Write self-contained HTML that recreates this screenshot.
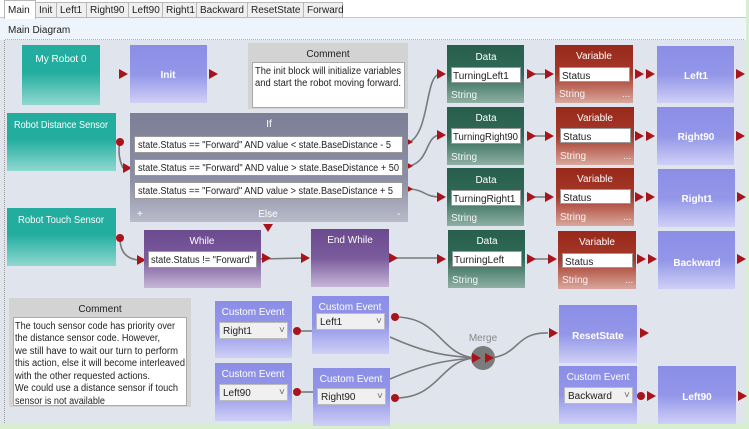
<!DOCTYPE html>
<html><head><meta charset="utf-8"><style>
body{margin:0;width:749px;height:429px;overflow:hidden;background:#dfe4ed;font-family:"Liberation Sans",sans-serif}
svg{display:block}
text{font-family:"Liberation Sans",sans-serif;font-size:10px}
</style></head><body>
<svg width="749" height="429" viewBox="0 0 749 429" xmlns="http://www.w3.org/2000/svg">
<defs>
<linearGradient id="teal" x1="0" y1="0" x2="0" y2="1"><stop offset="0" stop-color="#22ad9f"/><stop offset="0.45" stop-color="#22ad9f"/><stop offset="1" stop-color="#8fd8cf"/></linearGradient>
<linearGradient id="blue" x1="0" y1="0" x2="0" y2="1"><stop offset="0" stop-color="#8b8ee6"/><stop offset="0.5" stop-color="#9396e8"/><stop offset="1" stop-color="#cfd0f6"/></linearGradient>
<linearGradient id="green" x1="0" y1="0" x2="0" y2="1"><stop offset="0" stop-color="#285e4c"/><stop offset="0.5" stop-color="#2f6a57"/><stop offset="1" stop-color="#8fb0a4"/></linearGradient>
<linearGradient id="red" x1="0" y1="0" x2="0" y2="1"><stop offset="0" stop-color="#98281a"/><stop offset="0.5" stop-color="#a53a2a"/><stop offset="1" stop-color="#d9a79c"/></linearGradient>
<linearGradient id="purp" x1="0" y1="0" x2="0" y2="1"><stop offset="0" stop-color="#6b4a8e"/><stop offset="0.5" stop-color="#7a5b9c"/><stop offset="1" stop-color="#c7b6d8"/></linearGradient>
<linearGradient id="gray" x1="0" y1="0" x2="0" y2="1"><stop offset="0" stop-color="#7c7f96"/><stop offset="0.6" stop-color="#8b8ea4"/><stop offset="1" stop-color="#b9bbca"/></linearGradient>
</defs>
<rect x="0" y="0" width="749" height="429" fill="#dfe4ed"/>
<rect x="0" y="0" width="749" height="18" fill="#ffffff"/>
<rect x="0" y="18" width="749" height="22" fill="#eef4fb"/>
<line x1="0" y1="17.5" x2="749" y2="17.5" stroke="#c8c8c8"/>
<g stroke="#b8b8b8" fill="#efefef">
<rect x="35.5" y="2.5" width="21" height="15"/><rect x="56.5" y="2.5" width="30" height="15"/><rect x="86.5" y="2.5" width="42" height="15"/><rect x="128.5" y="2.5" width="34" height="15"/><rect x="162.5" y="2.5" width="34" height="15"/><rect x="196.5" y="2.5" width="51" height="15"/><rect x="247.5" y="2.5" width="56" height="15"/><rect x="303.5" y="2.5" width="39" height="15"/>
</g>
<rect x="4.5" y="0.5" width="31" height="18" fill="#fff" stroke="#b8b8b8"/>
<rect x="5" y="17" width="30" height="2" fill="#fff"/>
<g fill="#222" font-size="9">
<text x="8" y="13">Main</text><text x="39" y="13">Init</text><text x="60" y="13">Left1</text><text x="90" y="13">Right90</text><text x="132" y="13">Left90</text><text x="166" y="13">Right1</text><text x="200" y="13">Backward</text><text x="251" y="13">ResetState</text><text x="307" y="13">Forward</text>
</g>
<text x="8" y="33" fill="#222" font-size="9.5">Main Diagram</text>
<line x1="5" y1="39.5" x2="744" y2="39.5" stroke="#b0b0b0" stroke-dasharray="1,1"/>
<line x1="4.5" y1="40" x2="4.5" y2="424" stroke="#999" stroke-dasharray="1,1"/>
<rect x="746" y="0" width="3" height="429" fill="#d5efd0"/>
<rect x="0" y="424" width="749" height="5" fill="#d5efd0"/>

<g stroke="#7a7a7a" stroke-width="1.6" fill="none">
<path d="M120 142 Q117 155 123 168"/>
<path d="M120 238 Q120 258 138 260"/>
<path d="M410 142 C430 130 425 75 440 74"/>
<path d="M410 166 C430 160 425 136 440 135"/>
<path d="M410 189 C425 190 425 197 440 197"/>
<path d="M260 259 L305 258"/>
<path d="M392 258 L440 258"/>
<path d="M528 74 L548 74"/><path d="M528 136 L548 136"/><path d="M528 197 L548 197"/><path d="M528 259 L550 259"/>
<path d="M297 331 L312 331"/><path d="M297 392 L313 392"/>
<path d="M395 317 C440 317 440 355 475 358"/>
<path d="M390 337 C430 355 450 356 475 358"/>
<path d="M390 379 C430 362 450 360 475 358"/>
<path d="M395 398 C440 398 440 360 475 358"/>
<path d="M490 358 C520 355 515 332 548 333"/>
</g>
<g fill="#a8141a">
<path d="M119 69 L128 74 L119 79Z"/><path d="M209 69 L218 74 L209 79Z"/>
<path d="M123 163 L132 168 L123 173Z"/><path d="M137 255 L146 260 L137 265Z"/>
<path d="M404 137 L413 142 L404 147Z"/><path d="M404 161 L413 166 L404 171Z"/><path d="M404 184 L413 189 L404 194Z"/>
<path d="M263 224 L273 224 L268 232Z"/>
<path d="M262 253 L271 258 L262 263Z"/><path d="M301 253 L310 258 L301 263Z"/><path d="M389 253 L398 258 L389 263Z"/>
<path d="M437 69 L446 74 L437 79Z"/><path d="M437 130 L446 135 L437 140Z"/><path d="M437 192 L446 197 L437 202Z"/><path d="M437 254 L446 259 L437 264Z"/>
<path d="M527 69 L536 74 L527 79Z"/><path d="M545 69 L554 74 L545 79Z"/>
<path d="M527 131 L536 136 L527 141Z"/><path d="M545 131 L554 136 L545 141Z"/>
<path d="M527 192 L536 197 L527 202Z"/><path d="M545 192 L554 197 L545 202Z"/>
<path d="M527 254 L536 259 L527 264Z"/><path d="M548 254 L557 259 L548 264Z"/>
<path d="M635 69 L644 74 L635 79Z"/><path d="M646 69 L655 74 L646 79Z"/>
<path d="M635 131 L644 136 L635 141Z"/><path d="M646 131 L655 136 L646 141Z"/>
<path d="M635 192 L644 197 L635 202Z"/><path d="M646 192 L655 197 L646 202Z"/>
<path d="M637 254 L646 259 L637 264Z"/><path d="M648 254 L657 259 L648 264Z"/>
<path d="M736 69 L745 74 L736 79Z"/><path d="M736 131 L745 136 L736 141Z"/><path d="M737 192 L746 197 L737 202Z"/><path d="M737 254 L746 259 L737 264Z"/>
<path d="M549 328 L558 333 L549 338Z"/><path d="M640 328 L649 333 L640 338Z"/>
<path d="M647 391 L656 396 L647 401Z"/><path d="M738 391 L747 396 L738 401Z"/>
</g>
<g fill="#a8141a"><circle cx="120" cy="142" r="4"/><circle cx="120" cy="238" r="4"/><circle cx="297" cy="331" r="4"/><circle cx="297" cy="392" r="4"/><circle cx="395" cy="317" r="4"/><circle cx="395" cy="398" r="4"/><circle cx="641" cy="396" r="4"/></g>
<circle cx="483" cy="358" r="12" fill="#7b7b7b"/>
<path d="M472 353 L481 358 L472 363Z" fill="#a8141a"/><path d="M485 353 L494 358 L485 363Z" fill="#a8141a"/>
<text x="483" y="341" text-anchor="middle" fill="#888" font-size="9.5">Merge</text>

<rect x="22" y="45" width="78" height="60" fill="url(#teal)"/>
<text x="61" y="62" text-anchor="middle" fill="#fff">My Robot 0</text>
<rect x="7" y="113" width="109" height="58" fill="url(#teal)"/>
<text x="61" y="128" text-anchor="middle" fill="#fff" textLength="94" lengthAdjust="spacingAndGlyphs">Robot Distance Sensor</text>
<rect x="7" y="208" width="109" height="58" fill="url(#teal)"/>
<text x="61" y="223" text-anchor="middle" fill="#fff" textLength="86" lengthAdjust="spacingAndGlyphs">Robot Touch Sensor</text>

<rect x="130" y="45" width="77" height="58" fill="url(#blue)"/>
<text x="168" y="78" text-anchor="middle" fill="#fff" font-weight="bold">Init</text>
<rect x="248" y="43" width="160" height="66" fill="#d3d3d3"/>
<text x="328" y="57" text-anchor="middle" fill="#222">Comment</text>
<rect x="252.5" y="62.5" width="152" height="45" fill="#fff" stroke="#aaa"/>
<text x="255" y="74" fill="#222" font-size="9.6" textLength="146" lengthAdjust="spacingAndGlyphs">The init block will initialize variables</text>
<text x="255" y="86" fill="#222" font-size="9.6" textLength="146" lengthAdjust="spacingAndGlyphs">and start the robot moving forward.</text>

<rect x="130" y="113" width="278" height="109" fill="url(#gray)"/>
<text x="269" y="127" text-anchor="middle" fill="#fff">If</text>
<g fill="#fff" stroke="#999"><rect x="134.5" y="136.5" width="268" height="16"/><rect x="134.5" y="159.5" width="268" height="16"/><rect x="134.5" y="182.5" width="268" height="16"/></g>
<g fill="#222" font-size="9.4"><text x="138" y="148" textLength="253" lengthAdjust="spacingAndGlyphs">state.Status == "Forward" AND value &lt; state.BaseDistance - 5</text><text x="138" y="171" textLength="261" lengthAdjust="spacingAndGlyphs">state.Status == "Forward" AND value &gt; state.BaseDistance + 50</text><text x="138" y="194" textLength="255" lengthAdjust="spacingAndGlyphs">state.Status == "Forward" AND value &gt; state.BaseDistance + 5</text></g>
<text x="137" y="217" fill="#fff">+</text><text x="268" y="217" text-anchor="middle" fill="#fff">Else</text><text x="397" y="217" fill="#fff">-</text>

<rect x="144" y="230" width="117" height="58" fill="url(#purp)"/>
<text x="202" y="244" text-anchor="middle" fill="#fff">While</text>
<rect x="148.5" y="251.5" width="108" height="16" fill="#fff" stroke="#999"/>
<text x="151" y="263" fill="#222" font-size="9.4" textLength="102" lengthAdjust="spacingAndGlyphs">state.Status != "Forward"</text>
<rect x="311" y="229" width="78" height="58" fill="url(#purp)"/>
<text x="350" y="243" text-anchor="middle" fill="#fff">End While</text>

<g>
<rect x="447" y="45" width="77" height="58" fill="url(#green)"/><rect x="447" y="107" width="77" height="58" fill="url(#green)"/><rect x="447" y="168" width="77" height="58" fill="url(#green)"/><rect x="448" y="230" width="77" height="58" fill="url(#green)"/>
<rect x="555" y="45" width="78" height="58" fill="url(#red)"/><rect x="556" y="107" width="78" height="58" fill="url(#red)"/><rect x="556" y="168" width="78" height="58" fill="url(#red)"/><rect x="558" y="231" width="78" height="58" fill="url(#red)"/>
<rect x="657" y="46" width="77" height="57" fill="url(#blue)"/><rect x="657" y="107" width="77" height="58" fill="url(#blue)"/><rect x="658" y="169" width="77" height="58" fill="url(#blue)"/><rect x="658" y="231" width="77" height="58" fill="url(#blue)"/>
</g>
<g fill="#fff" stroke="#999">
<rect x="451.5" y="67.5" width="69" height="15"/><rect x="451.5" y="128.5" width="69" height="15"/><rect x="451.5" y="190.5" width="69" height="15"/><rect x="452.5" y="251.5" width="69" height="15"/>
<rect x="559.5" y="67.5" width="70" height="14"/><rect x="560.5" y="128.5" width="70" height="14"/><rect x="560.5" y="189.5" width="70" height="14"/><rect x="562.5" y="253.5" width="70" height="14"/>
</g>
<g fill="#fff" text-anchor="middle">
<text x="486" y="60">Data</text><text x="486" y="121">Data</text><text x="486" y="183">Data</text><text x="487" y="244">Data</text>
<text x="594" y="59">Variable</text><text x="595" y="121">Variable</text><text x="595" y="182">Variable</text><text x="597" y="245">Variable</text>
</g>
<g fill="#fff" font-weight="bold" text-anchor="middle">
<text x="696" y="79">Left1</text><text x="696" y="140">Right90</text><text x="697" y="202">Right1</text><text x="697" y="266">Backward</text>
</g>
<g fill="#222" font-size="9.6">
<text x="453" y="79">TurningLeft1</text><text x="453" y="140" textLength="65" lengthAdjust="spacingAndGlyphs">TurningRight90</text><text x="453" y="202">TurningRight1</text><text x="454" y="263">TurningLeft</text>
<text x="562" y="79">Status</text><text x="563" y="140">Status</text><text x="563" y="201">Status</text><text x="565" y="265">Status</text>
</g>
<g fill="#fff" font-size="9.6" opacity="0.9">
<text x="451" y="98">String</text><text x="451" y="160">String</text><text x="451" y="221">String</text><text x="452" y="283">String</text>
<text x="559" y="97">String</text><text x="560" y="159">String</text><text x="560" y="220">String</text><text x="562" y="283">String</text>
<text x="622" y="97">...</text><text x="623" y="159">...</text><text x="623" y="220">...</text><text x="625" y="283">...</text>
</g>

<rect x="9" y="298" width="182" height="109" fill="#d3d3d3"/>
<text x="100" y="312" text-anchor="middle" fill="#222">Comment</text>
<rect x="13.5" y="317.5" width="173" height="88" fill="#fff" stroke="#aaa"/>
<g fill="#222" font-size="9.4">
<text x="15" y="329" textLength="160" lengthAdjust="spacingAndGlyphs">The touch sensor code has priority over</text>
<text x="15" y="341" textLength="145" lengthAdjust="spacingAndGlyphs">the distance sensor code. However,</text>
<text x="15" y="354" textLength="163" lengthAdjust="spacingAndGlyphs">we still have to wait our turn to perform</text>
<text x="15" y="366" textLength="170" lengthAdjust="spacingAndGlyphs">this action, else it will become interleaved</text>
<text x="15" y="379" textLength="135" lengthAdjust="spacingAndGlyphs">with the other requested actions.</text>
<text x="15" y="391" textLength="163" lengthAdjust="spacingAndGlyphs">We could use a distance sensor if touch</text>
<text x="15" y="404" textLength="90" lengthAdjust="spacingAndGlyphs">sensor is not available</text>
</g>

<rect x="215" y="301" width="77" height="57" fill="url(#blue)"/>
<rect x="312" y="296" width="77" height="58" fill="url(#blue)"/>
<rect x="215" y="363" width="77" height="58" fill="url(#blue)"/>
<rect x="313" y="368" width="77" height="58" fill="url(#blue)"/>
<rect x="559" y="305" width="78" height="58" fill="url(#blue)"/>
<rect x="559" y="366" width="78" height="58" fill="url(#blue)"/>
<rect x="658" y="366" width="78" height="58" fill="url(#blue)"/>
<g fill="#fff" text-anchor="middle">
<text x="253" y="315">Custom Event</text><text x="350" y="310">Custom Event</text><text x="253" y="377">Custom Event</text><text x="351" y="382">Custom Event</text><text x="598" y="380">Custom Event</text>
</g>
<g fill="#fff" font-weight="bold" text-anchor="middle"><text x="598" y="339">ResetState</text><text x="697" y="400">Left90</text></g>
<g fill="#f0f0f0" stroke="#bbb">
<rect x="219.5" y="322.5" width="68" height="16"/><rect x="316.5" y="313.5" width="68" height="16"/><rect x="219.5" y="384.5" width="68" height="16"/><rect x="317.5" y="388.5" width="68" height="16"/><rect x="564.5" y="387.5" width="68" height="16"/>
</g>
<g fill="#222" font-size="9.6">
<text x="223" y="334">Right1</text><text x="320" y="325">Left1</text><text x="223" y="396">Left90</text><text x="321" y="400">Right90</text><text x="568" y="399">Backward</text>
</g>
<g fill="#666" font-size="8"><text x="279" y="333">˅</text><text x="376" y="324">˅</text><text x="279" y="395">˅</text><text x="377" y="399">˅</text><text x="624" y="398">˅</text></g>
</svg>
</body></html>
